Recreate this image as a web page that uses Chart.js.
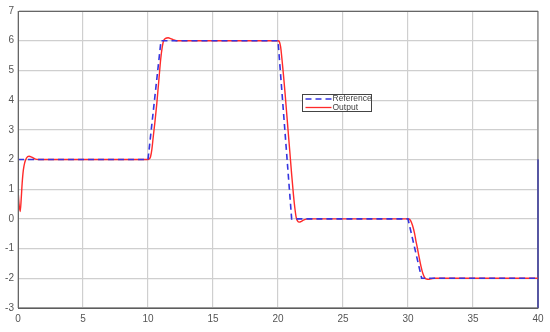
<!DOCTYPE html>
<html><head><meta charset="utf-8">
<script src="https://cdn.jsdelivr.net/npm/chart.js@4"></script>
<style>html,body{margin:0;padding:0;background:#fff;}#wrap{width:550px;height:332px;position:relative;}</style>
</head><body><div id="wrap"><canvas id="c" width="550" height="332"></canvas></div>
<script>
const xTicks = [0,5,10,15,20,25,30,35,40];
const yTicks = [-3,-2,-1,0,1,2,3,4,5,6,7];
const refT = [0,10,11.0,20,21.05,30,31.05,40];
const refY = [2,2,6,6,0,0,-2,-2];
const outT = [0,0.08,0.17,0.25,0.32,0.41,0.52,0.65,0.85,1.05,1.3,1.6,
  10,10.1,10.2,10.3,10.4,10.53,10.67,10.77,10.87,10.97,11.1,11.2,11.35,11.55,11.75,11.95,12.2,
  20,20.1,20.2,20.3,20.42,20.54,20.66,20.78,20.92,21.05,21.18,21.3,21.4,21.5,21.64,21.8,22.0,22.3,
  30,30.1,30.2,30.35,30.5,30.6,30.72,30.85,31.0,31.15,31.3,31.45,31.56,31.75,32.0,40];
const outY = [1.0,0.5,0.25,0.7,1.2,1.64,1.9,2.05,2.11,2.08,2.02,2.0,
  2,2.02,2.1,2.35,2.75,3.25,3.85,4.35,4.85,5.35,5.8,6.0,6.08,6.1,6.07,6.03,6.0,
  6,5.97,5.8,5.4,4.85,4.25,3.6,2.95,2.2,1.5,0.85,0.35,0.05,-0.07,-0.11,-0.08,-0.03,0,
  0,-0.01,-0.06,-0.22,-0.48,-0.72,-0.98,-1.28,-1.6,-1.85,-1.99,-2.03,-2.035,-2.02,-2.0,-2];
const edgeT = [40,40];
const edgeY = [2,-3];
const seriesNames = ['Reference','Output'];

const pts = (t,y)=>t.map((v,i)=>({x:v,y:y[i]}));
const BLUE='#3535e0', RED='#ff2a2a';

const legendPlugin = {
  id:'boxLegend',
  afterDraw(chart){
    const ctx=chart.ctx, a=chart.chartArea;
    ctx.save();
    ctx.strokeStyle='#666'; ctx.lineWidth=1;
    ctx.strokeRect(Math.round(a.left)+0.5, Math.round(a.top)+0.5, Math.round(a.right-a.left)-0.5, Math.round(a.bottom-a.top)-0.5);
    const bx=302.5, by=94.5, bw=69, bh=17;
    ctx.fillStyle='#fff'; ctx.fillRect(bx,by,bw,bh);
    ctx.strokeStyle='#444'; ctx.strokeRect(bx,by,bw,bh);
    const ds=chart.data.datasets;
    ctx.font='8.5px "Liberation Sans", Arial, sans-serif';
    ctx.textBaseline='middle';
    for(let i=0;i<2;i++){
      const yy=by+4.5+i*8.5;
      ctx.beginPath();
      ctx.strokeStyle=ds[i].borderColor; ctx.lineWidth=1.3;
      ctx.setLineDash(ds[i].borderDash||[]);
      ctx.moveTo(bx+3,yy); ctx.lineTo(bx+29,yy); ctx.stroke();
      ctx.setLineDash([]);
      ctx.fillStyle='#444';
      ctx.fillText(seriesNames[i], bx+30, yy);
    }
    ctx.restore();
  }
};

new Chart(document.getElementById('c'),{
  type:'line',
  data:{datasets:[
    {label:seriesNames[0],data:pts(refT,refY),borderColor:BLUE,borderWidth:1.6,borderDash:[6,4],pointRadius:0,tension:0,fill:false},
    {label:seriesNames[1],data:pts(outT,outY),borderColor:RED,borderWidth:1.4,pointRadius:0,cubicInterpolationMode:'monotone',fill:false},
    {label:'edge',data:pts(edgeT,edgeY),borderColor:BLUE,borderWidth:1,pointRadius:0,tension:0,fill:false,clip:3}
  ]},
  options:{
    responsive:false,animation:false,
    layout:{padding:{top:11,right:12,left:0,bottom:0}},
    plugins:{legend:{display:false},tooltip:{enabled:false}},
    scales:{
      x:{type:'linear',min:0,max:40,
        afterBuildTicks:s=>{s.ticks=xTicks.map(v=>({value:v}));},
        afterFit:s=>{s.height=24;},
        grid:{color:'#cfcfcf',lineWidth:1.2,drawTicks:false},
        border:{color:'#555',width:1},
        ticks:{padding:5,color:'#555',font:{size:10,family:'"Liberation Sans", Arial, sans-serif'},maxRotation:0}
      },
      y:{type:'linear',min:-3,max:7,
        afterBuildTicks:s=>{s.ticks=yTicks.map(v=>({value:v}));},
        afterFit:s=>{s.width=18;},
        grid:{color:'#cfcfcf',lineWidth:1.2,drawTicks:false},
        border:{color:'#555',width:1},
        ticks:{padding:4,color:'#555',font:{size:10,family:'"Liberation Sans", Arial, sans-serif'}}
      }
    }
  },
  plugins:[legendPlugin]
});
</script></body></html>
